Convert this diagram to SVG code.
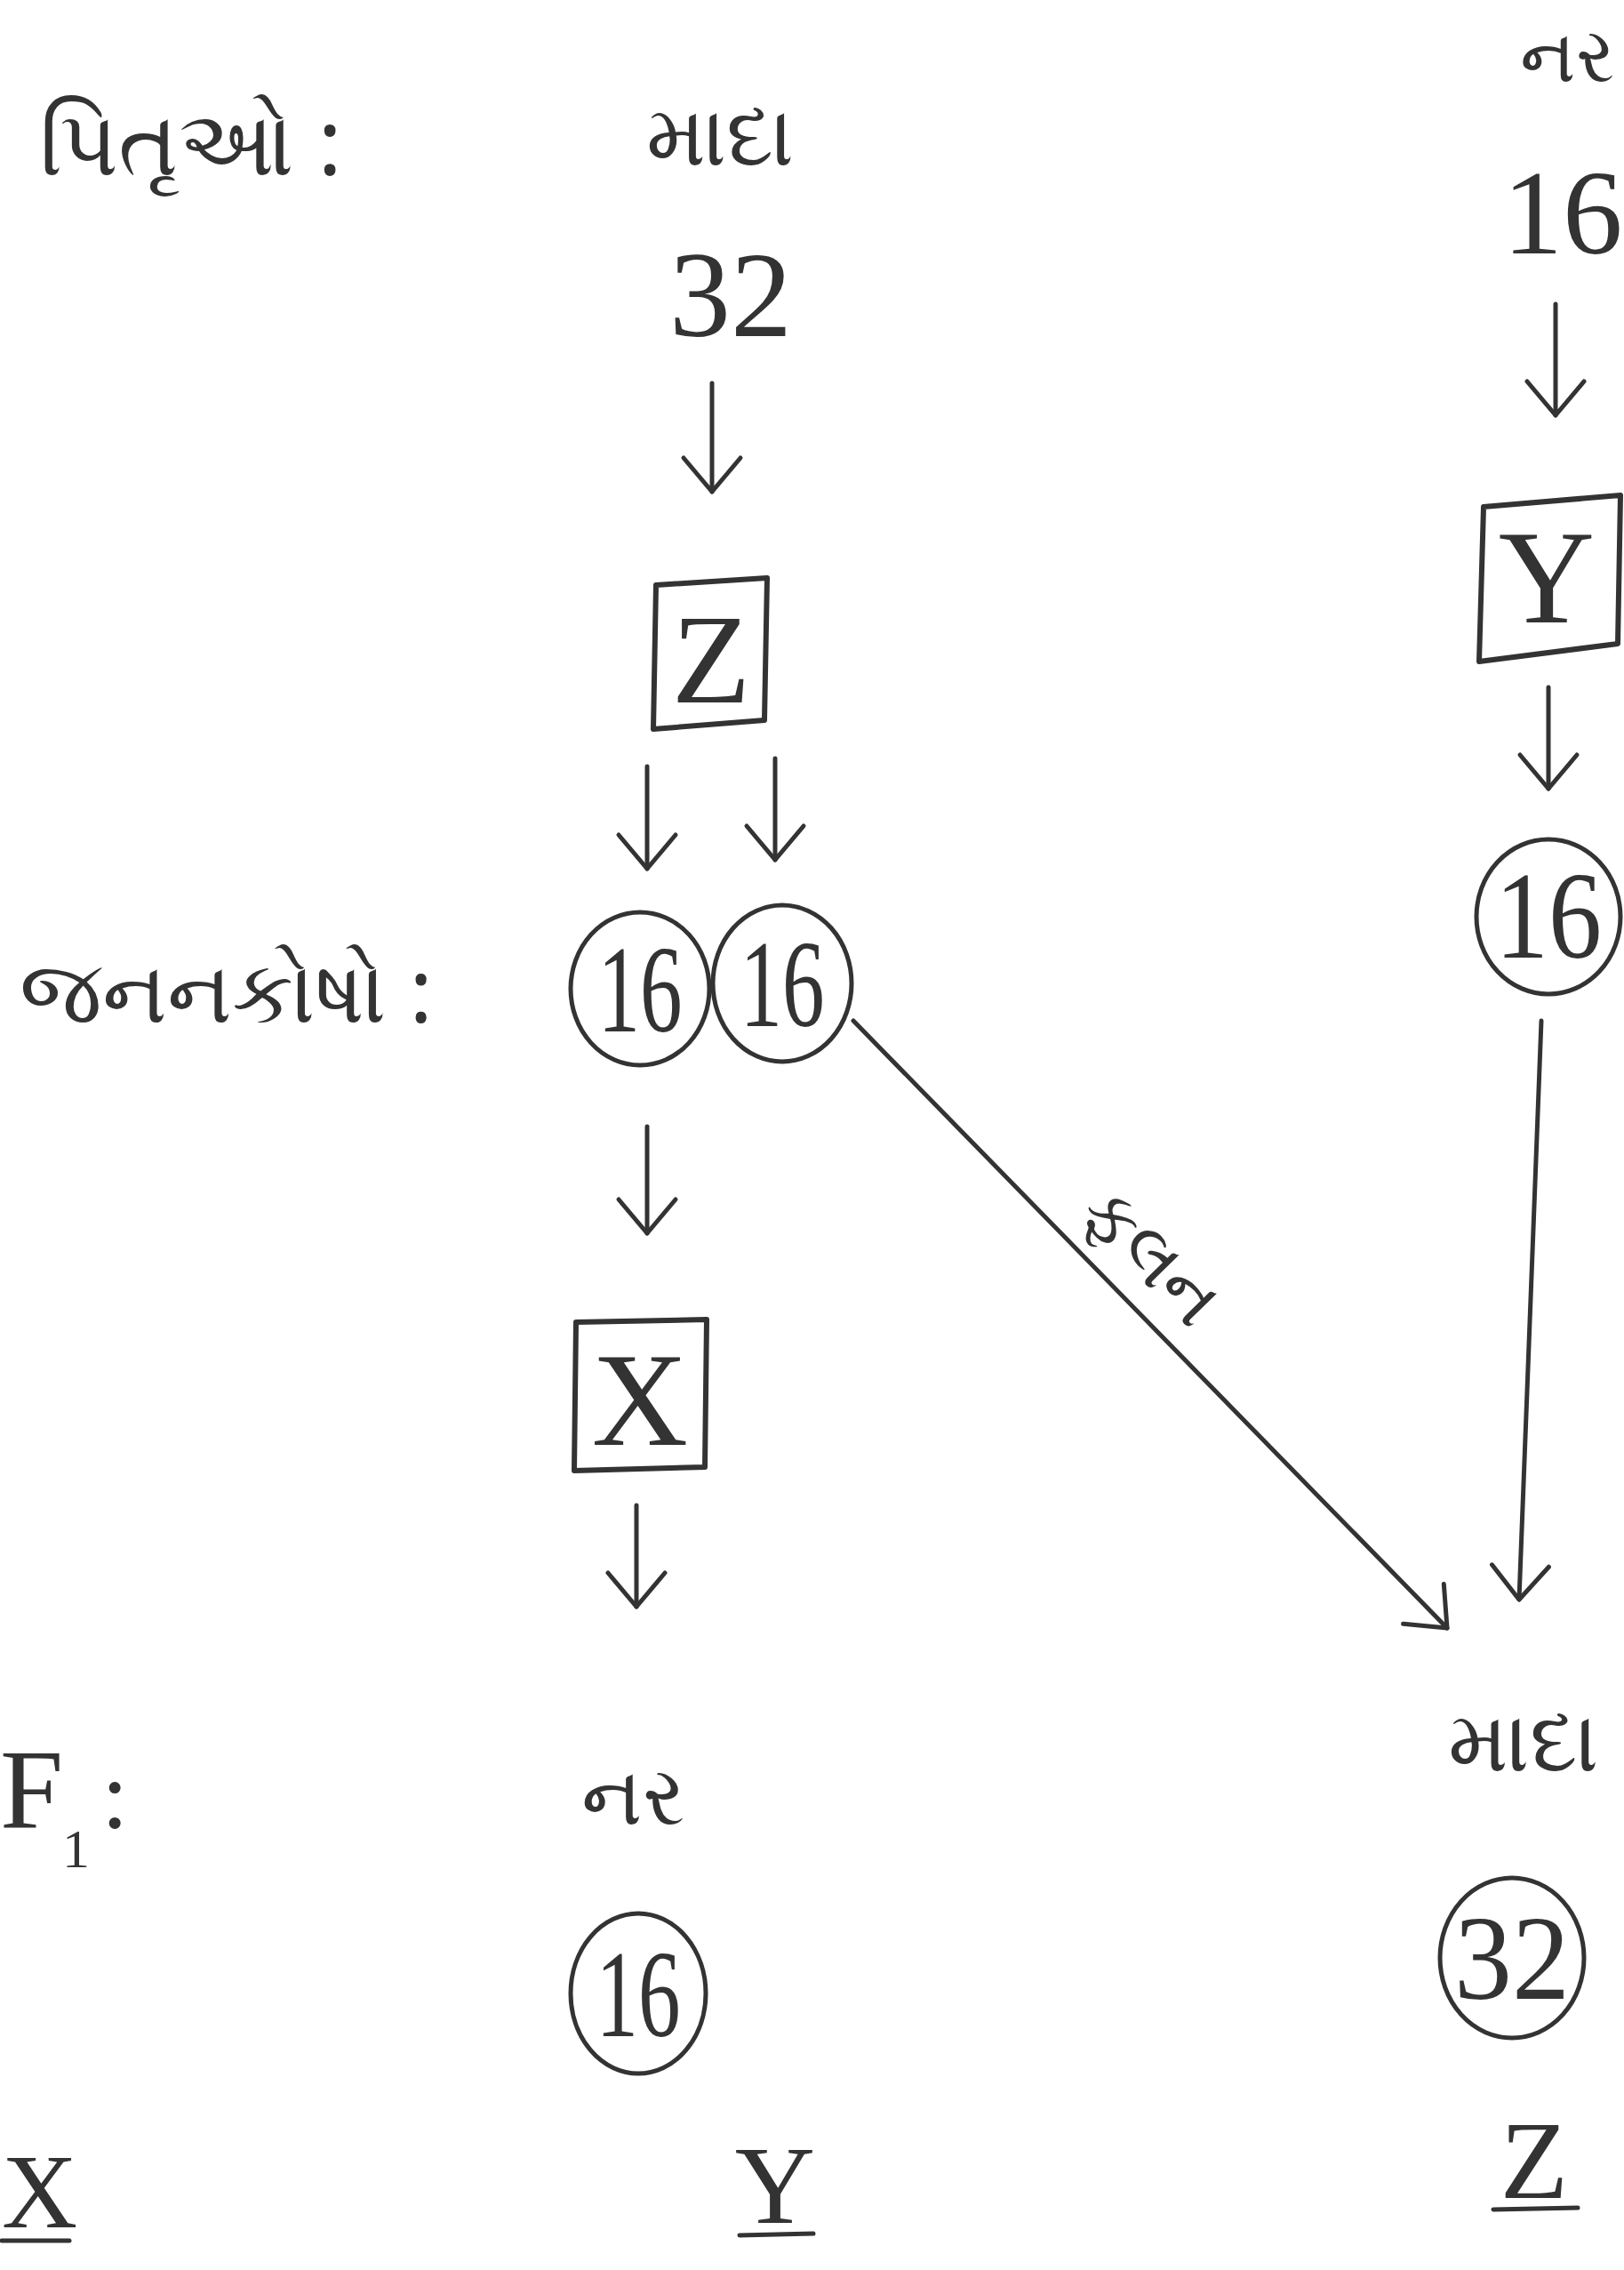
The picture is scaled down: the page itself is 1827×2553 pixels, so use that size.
<svg xmlns="http://www.w3.org/2000/svg" width="1827" height="2553" viewBox="0 0 1827 2553">
<defs>
<style>
.lat{font-family:"Liberation Serif","DejaVu Serif",serif;fill:#333}
.guj{font-family:"Noto Sans","DejaVu Sans",sans-serif;fill:#333}
.ln{stroke:#333;stroke-width:5;fill:none;stroke-linecap:round;stroke-linejoin:round}
.bx{stroke:#333;stroke-width:6;fill:none;stroke-linejoin:round}
.cr{stroke:#333;stroke-width:5;fill:none}
</style>
<marker id="ah" markerUnits="userSpaceOnUse" markerWidth="100" markerHeight="100" refX="0" refY="0" orient="auto" overflow="visible">
<path d="M -38 -32 L 0 0 L -38 32" fill="none" stroke="#333" stroke-width="5" stroke-linecap="round" stroke-linejoin="round"/>
</marker>
</defs>
<rect width="1827" height="2553" fill="#fff"/>

<g id="labels">
<text class="guj" x="44" y="197" font-size="102">પિતૃઓ :</text>
<text class="guj" x="22" y="1150" font-size="98">જનનકોષો :</text>
<text class="lat" x="0" y="2055" font-size="128">F</text>
<text class="lat" x="70" y="2100" font-size="62">1</text>
<text class="lat" x="114" y="2055" font-size="110">:</text>
</g>

<g id="female-parent">
<text class="guj" x="810" y="186" font-size="95" text-anchor="middle">માદા</text>
<text class="lat" x="822" y="378" font-size="138" text-anchor="middle">32</text>
</g>

<g id="male-parent">
<text class="guj" x="1763" y="92" font-size="84" text-anchor="middle">નર</text>
<text class="lat" x="1758" y="285" font-size="135" text-anchor="middle">16</text>
</g>

<g id="box-Z">
<path class="bx" d="M738 658 L863 650 L860 810 L735 820 Z"/>
<text class="lat" x="800" y="790" font-size="145" text-anchor="middle">Z</text>
</g>

<g id="box-Y">
<path class="bx" d="M1669 570 L1823 557 L1820 724 L1664 744 Z"/>
<text class="lat" x="1740" y="700" font-size="150" text-anchor="middle">Y</text>
</g>

<g id="gamete-1">
<ellipse class="cr" cx="720" cy="1112" rx="78" ry="86"/>
<text class="lat" x="720" y="1160" font-size="140" text-anchor="middle" textLength="95" lengthAdjust="spacingAndGlyphs">16</text>
</g>
<g id="gamete-2">
<ellipse class="cr" cx="880" cy="1106" rx="78" ry="88"/>
<text class="lat" x="880" y="1154" font-size="140" text-anchor="middle" textLength="95" lengthAdjust="spacingAndGlyphs">16</text>
</g>
<g id="gamete-3">
<ellipse class="cr" cx="1742" cy="1031" rx="81" ry="87"/>
<text class="lat" x="1742" y="1077" font-size="140" text-anchor="middle" textLength="120" lengthAdjust="spacingAndGlyphs">16</text>
</g>

<g id="box-X">
<path class="bx" d="M648 1487 L795 1484 L793 1650 L646 1654 Z"/>
<text class="lat" x="720" y="1625" font-size="150" text-anchor="middle">X</text>
</g>

<g id="f1-male">
<text class="guj" x="712" y="2052" font-size="92" text-anchor="middle">નર</text>
<ellipse class="cr" cx="718" cy="2242" rx="76" ry="90"/>
<text class="lat" x="718" y="2290" font-size="140" text-anchor="middle" textLength="95" lengthAdjust="spacingAndGlyphs">16</text>
</g>

<g id="f1-female">
<text class="guj" x="1714" y="1992" font-size="96" text-anchor="middle">માદા</text>
<ellipse class="cr" cx="1701" cy="2202" rx="81" ry="90"/>
<text class="lat" x="1701" y="2248" font-size="135" text-anchor="middle" textLength="130" lengthAdjust="spacingAndGlyphs">32</text>
</g>

<g id="names">
<text class="lat" x="2" y="2505" font-size="118">X</text>
<line class="ln" x1="2" y1="2520" x2="78" y2="2520"/>
<text class="lat" x="872" y="2500" font-size="125" text-anchor="middle">Y</text>
<line class="ln" x1="832" y1="2514" x2="915" y2="2512"/>
<text class="lat" x="1726" y="2472" font-size="125" text-anchor="middle">Z</text>
<line class="ln" x1="1680" y1="2485" x2="1775" y2="2483"/>
</g>

<g id="connectors">
<line class="ln" x1="801" y1="431" x2="801" y2="553" marker-end="url(#ah)"/>
<line class="ln" x1="1750" y1="342" x2="1750" y2="467" marker-end="url(#ah)"/>
<line class="ln" x1="728" y1="862" x2="728" y2="977" marker-end="url(#ah)"/>
<line class="ln" x1="872" y1="853" x2="872" y2="967" marker-end="url(#ah)"/>
<line class="ln" x1="1742" y1="773" x2="1742" y2="887" marker-end="url(#ah)"/>
<line class="ln" x1="728" y1="1267" x2="728" y2="1387" marker-end="url(#ah)"/>
<line class="ln" x1="716" y1="1693" x2="716" y2="1807" marker-end="url(#ah)"/>
<line class="ln" x1="1734" y1="1148" x2="1709" y2="1799" marker-end="url(#ah)"/>
<line class="ln" x1="960" y1="1148" x2="1628" y2="1831" marker-end="url(#ah)"/>
<text class="guj" x="0" y="0" font-size="82" text-anchor="middle" transform="translate(1276 1432) rotate(45.7)">ફલન</text>
</g>
</svg>
